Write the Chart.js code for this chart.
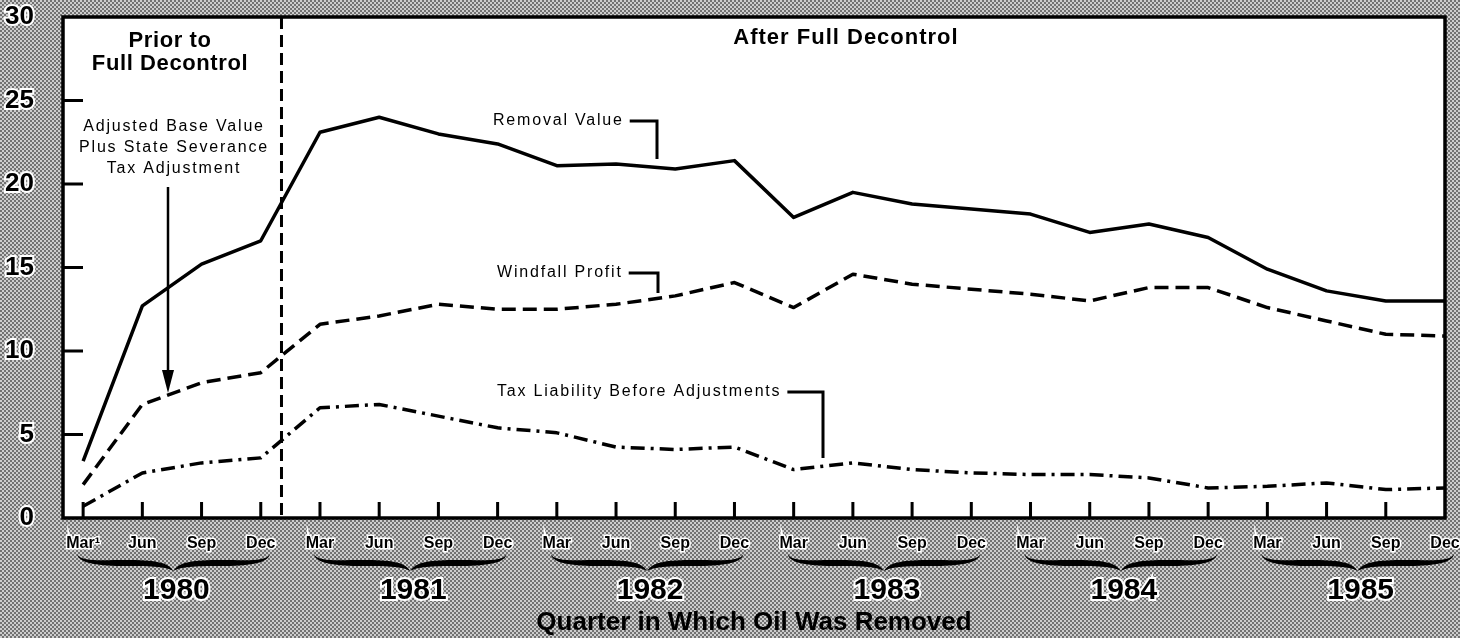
<!DOCTYPE html>
<html>
<head>
<meta charset="utf-8">
<script src="https://cdn.jsdelivr.net/npm/chart.js@4/dist/chart.umd.min.js"></script>
<style>
  html, body { margin: 0; padding: 0; }
  body {
    width: 1460px; height: 638px; overflow: hidden;
    background: repeating-conic-gradient(#727272 0 25%, #cdcdcd 0 50%) 0 0 / 4px 4px;
  }
  #wrap { position: relative; width: 1460px; height: 638px; }
</style>
</head>
<body>
<div id="wrap"><canvas id="chart" width="1460" height="638"></canvas></div>
<script>
const quarters = ["Mar¹", "Jun", "Sep", "Dec",
  "Mar", "Jun", "Sep", "Dec", "Mar", "Jun", "Sep", "Dec",
  "Mar", "Jun", "Sep", "Dec", "Mar", "Jun", "Sep", "Dec",
  "Mar", "Jun", "Sep", "Dec"];
const years = ["1980", "1981", "1982", "1983", "1984", "1985"];

const removalValue = [3.4, 12.7, 15.2, 16.6, 23.1, 24.0, 23.0, 22.4, 21.1, 21.2, 20.9, 21.4,
  18.0, 19.5, 18.8, 18.5, 18.2, 17.1, 17.6, 16.8, 14.9, 13.6, 13.0, 13.0];
const windfallProfit = [2.0, 6.8, 8.1, 8.7, 11.6, 12.1, 12.8, 12.5, 12.5, 12.8, 13.3, 14.1,
  12.6, 14.6, 14.0, 13.7, 13.4, 13.0, 13.8, 13.8, 12.6, 11.8, 11.0, 10.9];
const taxLiability = [0.7, 2.7, 3.3, 3.6, 6.6, 6.8, 6.1, 5.4, 5.1, 4.25, 4.1, 4.25,
  2.9, 3.3, 2.9, 2.7, 2.6, 2.6, 2.4, 1.8, 1.9, 2.1, 1.7, 1.8];

const yTicks = [0, 5, 10, 15, 20, 25, 30];
const decontrolAt = 3.35; // between Dec 1980 and Mar 1981

const FONT = "'Liberation Sans', Arial, Helvetica, sans-serif";
Chart.defaults.font.family = FONT;

const toPoints = arr => arr.map((v, i) => ({ x: i, y: v }));

// white plot, frame, inward ticks, notes, braces
const decor = {
  id: "decor",
  beforeDatasetsDraw(chart) {
    const { ctx, chartArea: a } = chart;
    ctx.save();
    ctx.fillStyle = "#fff";
    ctx.fillRect(a.left, a.top, a.right - a.left, a.bottom - a.top);
    ctx.restore();
  },
  afterDatasetsDraw(chart) {
    const { ctx, chartArea: a, scales: { x, y } } = chart;
    ctx.save();
    ctx.strokeStyle = "#000";
    ctx.lineWidth = 3.5;
    ctx.strokeRect(a.left, a.top, a.right - a.left, a.bottom - a.top);

    // inward ticks
    ctx.lineWidth = 3;
    ctx.beginPath();
    yTicks.slice(1, -1).forEach(v => {
      const py = y.getPixelForValue(v);
      ctx.moveTo(a.left, py); ctx.lineTo(a.left + 20, py);
    });
    quarters.forEach((q, i) => {
      if (i === quarters.length - 1) return;
      const px = x.getPixelForValue(i);
      ctx.moveTo(px, a.bottom); ctx.lineTo(px, a.bottom - 16);
    });
    ctx.stroke();

    // decontrol divider
    const dx = x.getPixelForValue(decontrolAt);
    ctx.setLineDash([12, 6]);
    ctx.lineWidth = 3;
    ctx.beginPath();
    ctx.moveTo(dx, a.top); ctx.lineTo(dx, a.bottom);
    ctx.stroke();
    ctx.setLineDash([]);

    // headings
    ctx.fillStyle = "#000";
    ctx.textAlign = "center";
    ctx.textBaseline = "middle";
    ctx.font = "bold 22px " + FONT;
    ctx.letterSpacing = "0.6px";
    ctx.fillText("Prior to", 170, 41);
    ctx.fillText("Full Decontrol", 170, 64);
    ctx.letterSpacing = "1px";
    ctx.fillText("After Full Decontrol", 846, 38);

    ctx.font = "16px " + FONT;
    ctx.letterSpacing = "1.8px";
    ctx.fillText("Adjusted Base Value", 174, 127);
    ctx.fillText("Plus State Severance", 174, 148);
    ctx.fillText("Tax Adjustment", 174, 169);

    // arrow
    ctx.lineWidth = 2.5;
    ctx.beginPath();
    ctx.moveTo(168, 187); ctx.lineTo(168, 372);
    ctx.stroke();
    ctx.beginPath();
    ctx.moveTo(162, 370); ctx.lineTo(174, 370); ctx.lineTo(168, 393);
    ctx.closePath(); ctx.fill();

    // series labels with leaders
    const notes = [
      { text: "Removal Value", x: 493, y: 121, lx: 657, ly: 159 },
      { text: "Windfall Profit", x: 497, y: 273, lx: 658, ly: 293 },
      { text: "Tax Liability Before Adjustments", x: 497, y: 392, lx: 823, ly: 458 }
    ];
    ctx.textAlign = "left";
    ctx.lineWidth = 3;
    notes.forEach(n => {
      ctx.fillText(n.text, n.x, n.y);
      const w = ctx.measureText(n.text).width;
      ctx.beginPath();
      ctx.moveTo(n.x + w + 6, n.y);
      ctx.lineTo(n.lx, n.y);
      ctx.lineTo(n.lx, n.ly);
      ctx.stroke();
    });
    ctx.letterSpacing = "0px";
    ctx.restore();
  },
  afterDraw(chart) {
    const { ctx, scales: { x } } = chart;
    ctx.save();
    ctx.fillStyle = "#000";
    const by = 559;
    years.forEach((yr, i) => {
      const x0 = x.getPixelForValue(i * 4 - 0.1);
      const x1 = x.getPixelForValue(i * 4 + 3.15);
      const xc = (x0 + x1) / 2;
      const h = xc - x0;
      ctx.beginPath();
      [[x0, 1], [x1, -1]].forEach(([e, d]) => {
        ctx.moveTo(e, by - 5);
        ctx.bezierCurveTo(e + 3 * d, by + 3, e + h * 0.25 * d, by + 1, e + h * 0.5 * d, by + 1);
        ctx.bezierCurveTo(e + h * 0.8 * d, by + 1, xc - 5 * d, by + 3, xc, by + 12);
        ctx.bezierCurveTo(xc - 7 * d, by + 8, e + h * 0.8 * d, by + 7, e + h * 0.5 * d, by + 7);
        ctx.bezierCurveTo(e + h * 0.25 * d, by + 7, e + 1 * d, by + 5, e, by - 5);
      });
      ctx.fill();

      ctx.font = "bold 30px " + FONT;
      ctx.textAlign = "center";
      ctx.textBaseline = "middle";
      ctx.lineWidth = 4;
      ctx.strokeStyle = "#fff";
      ctx.strokeText(yr, xc + 3, 591);
      ctx.fillText(yr, xc + 3, 591);
    });
    ctx.restore();
  }
};

new Chart(document.getElementById("chart"), {
  type: "line",
  data: {
    datasets: [
      { label: "Removal Value", data: toPoints(removalValue),
        borderColor: "#000", borderWidth: 3.5 },
      { label: "Windfall Profit", data: toPoints(windfallProfit),
        borderColor: "#000", borderWidth: 3.5, borderDash: [14, 7] },
      { label: "Tax Liability Before Adjustments", data: toPoints(taxLiability),
        borderColor: "#000", borderWidth: 3.5, borderDash: [14, 6, 3, 6] }
    ]
  },
  options: {
    responsive: false,
    animation: false,
    layout: { padding: { top: 17, right: 15, left: 0, bottom: 0 } },
    elements: { point: { radius: 0 }, line: { tension: 0, borderJoinStyle: "round" } },
    plugins: { legend: { display: false }, tooltip: { enabled: false } },
    scales: {
      x: {
        type: "linear",
        min: -0.34, max: 23,
        afterFit: s => { s.height = 120; s.paddingLeft = 0; s.paddingRight = 0; },
        grid: { display: false },
        border: { display: false },
        ticks: {
          stepSize: 1, autoSkip: false, maxRotation: 0, includeBounds: false,
          padding: 8,
          color: "#000",
          font: { size: 16, weight: "bold" },
          textStrokeColor: "#fff", textStrokeWidth: 3,
          callback: v => Number.isInteger(v) ? (quarters[v] || "") : ""
        },
        title: {
          display: true,
          text: "Quarter in Which Oil Was Removed",
          color: "#000",
          font: { size: 26, weight: "bold" },
          padding: { top: 0, bottom: 0 }
        }
      },
      y: {
        min: 0, max: 30,
        afterFit: s => { s.width = 63; s.paddingTop = 0; s.paddingBottom = 0; },
        grid: { display: false },
        border: { display: false },
        ticks: {
          stepSize: 5,
          padding: 21,
          color: "#000",
          font: { size: 26, weight: "bold" },
          textStrokeColor: "#fff", textStrokeWidth: 4
        }
      }
    }
  },
  plugins: [decor]
});
</script>
</body>
</html>
